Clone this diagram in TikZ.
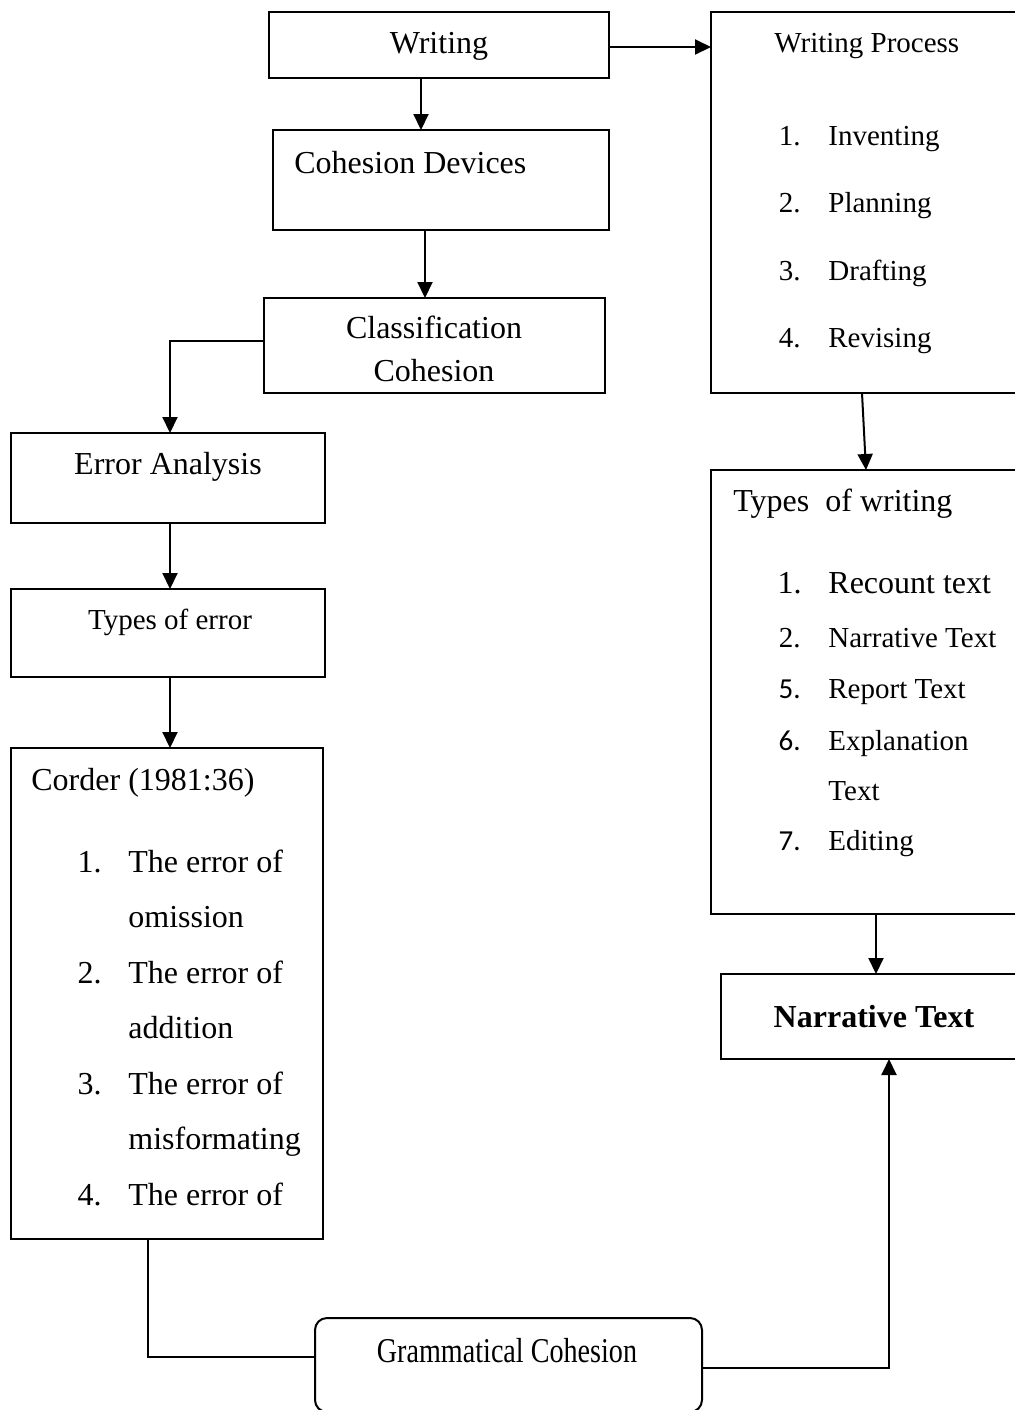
\documentclass[tikz,border=0pt]{standalone}
\usepackage{fontspec}
\usepackage{graphicx}
\setmainfont{Liberation Serif}
\newfontfamily\carlito{Carlito}
\usetikzlibrary{arrows.meta}
\newcommand\fsA{\fontsize{16}{19}\selectfont}
\newcommand\fsB{\fontsize{14.5}{17}\selectfont}
\tikzset{
  box/.style={draw, line width=1pt, inner sep=0pt, outer sep=0pt},
  arr/.style={line width=1pt, -{Triangle[length=8pt,width=7.5pt]}},
  link/.style={line width=1pt},
  txt/.style={inner sep=0pt, anchor=base west, font=\fsA},
  txtc/.style={inner sep=0pt, anchor=base, font=\fsA},
  num/.style={inner sep=0pt, anchor=base east, font=\fsA},
}
\begin{document}
\begin{tikzpicture}[x=0.5pt,y=-0.5pt]
\clip (0,0) rectangle (1015,1410);

% boxes
\node[box, minimum width=170pt, minimum height=33pt] (writing) at (439,45) {};
\node[box, minimum width=159.5pt, minimum height=190.5pt] (wp) at (870.5,202.5) {};
\node[box, minimum width=168pt, minimum height=50pt] (cohesion) at (441,180) {};
\node[box, minimum width=170.5pt, minimum height=47.5pt] (class) at (434.5,345.5) {};
\node[box, minimum width=157pt, minimum height=45pt] (error) at (168,478) {};
\node[box, minimum width=157pt, minimum height=44pt] (toe) at (168,633) {};
\node[box, minimum width=156pt, minimum height=245.5pt] (corder) at (167,993.5) {};
\node[box, minimum width=159.5pt, minimum height=222pt] (tow) at (870.5,692) {};
\node[box, minimum width=154.5pt, minimum height=42.5pt] (nt) at (875.5,1016.5) {};
\node[box, rounded corners=6pt, minimum width=193.5pt, minimum height=47pt] (gc) at (508.5,1365) {};

% texts
\node[txtc] (tWriting) at (439,53) {Writing};
\node[txt, font=\fsB] (tWP) at (774,52) {Writing Process};
\node[num, font=\fsB] (wp1n) at (801,145) {1.};
\node[txt, font=\fsB] (wp1) at (828,145) {Inventing};
\node[num, font=\fsB] (wp2n) at (801,212) {2.};
\node[txt, font=\fsB] (wp2) at (828,212) {Planning};
\node[num, font=\fsB] (wp3n) at (801,280) {3.};
\node[txt, font=\fsB] (wp3) at (828,280) {Drafting};
\node[num, font=\fsB] (wp4n) at (801,347) {4.};
\node[txt, font=\fsB] (wp4) at (828,347) {Revising};

\node[txt] (tCoh) at (294,173) {Cohesion Devices};
\node[txtc] (tCl1) at (434,338) {Classification};
\node[txtc] (tCl2) at (434,381) {Cohesion};
\node[txtc] (tErr) at (168,474) {Error Analysis};
\node[txtc, font=\fsB] (tToe) at (170,629) {Types of error};

\node[txt] (tCorder) at (31,790) {Corder (1981:36)};
\node[num] (c1n) at (102,872) {1.};
\node[txt] (c1a) at (128,872) {The error of};
\node[txt] (c1b) at (128,927) {omission};
\node[num] (c2n) at (102,983) {2.};
\node[txt] (c2a) at (128,983) {The error of};
\node[txt] (c2b) at (128,1038) {addition};
\node[num] (c3n) at (102,1094) {3.};
\node[txt] (c3a) at (128,1094) {The error of};
\node[txt] (c3b) at (128,1149) {misformating};
\node[num] (c4n) at (102,1205) {4.};
\node[txt] (c4a) at (128,1205) {The error of};

\node[txt] (tTow) at (733,511) {Types\ \ of writing};
\node[num] (w1n) at (802,593) {1.};
\node[txt] (w1) at (828,593) {Recount text};
\node[num, font=\fsB] (w2n) at (801,647) {2.};
\node[txt, font=\fsB] (w2) at (828,647) {Narrative Text};
\node[num, font=\fsB\carlito] (w5n) at (801,698) {5.};
\node[txt, font=\fsB] (w5) at (828,698) {Report Text};
\node[num, font=\fsB\carlito] (w6n) at (801,750) {6.};
\node[txt, font=\fsB] (w6) at (828,750) {Explanation};
\node[txt, font=\fsB] (w6b) at (828,800) {Text};
\node[num, font=\fsB\carlito] (w7n) at (801,850) {7.};
\node[txt, font=\fsB] (w7) at (828,850) {Editing};

\node[txtc, font=\fsA\bfseries] (tNT) at (874,1027) {Narrative Text};
\node[txtc, font=\fsB] (tGC) at (507,1362) {\scalebox{0.97}[1.2]{Grammatical Cohesion}};

% connectors
\draw[arr] ([yshift=-1pt]writing.east) -- ([yshift=-1pt]writing.east -| wp.west);
\draw[arr] ([xshift=-9pt]writing.south) -- ([xshift=-9pt]writing.south |- cohesion.north);
\draw[arr] ([xshift=-8pt]cohesion.south) -- ([xshift=-8pt]cohesion.south |- class.north);
\draw[arr] ([yshift=2.25pt]class.west) -| ([xshift=1pt]error.north);
\draw[arr] ([xshift=1pt]error.south) -- ([xshift=1pt]toe.north);
\draw[arr] ([xshift=1pt]toe.south) -- ([xshift=1.5pt]corder.north);
\draw[link] ([xshift=-9.5pt]corder.south) |- ([yshift=4pt]gc.west);
\draw[arr] ([yshift=-1.5pt]gc.east) -| ([xshift=6.75pt]nt.south);
\draw[arr] ([xshift=-4.25pt]wp.south) -- ([xshift=-2.25pt]tow.north);
\draw[arr] ([xshift=2.75pt]tow.south) -- ([xshift=2.75pt]tow.south |- nt.north);
\end{tikzpicture}
\end{document}
